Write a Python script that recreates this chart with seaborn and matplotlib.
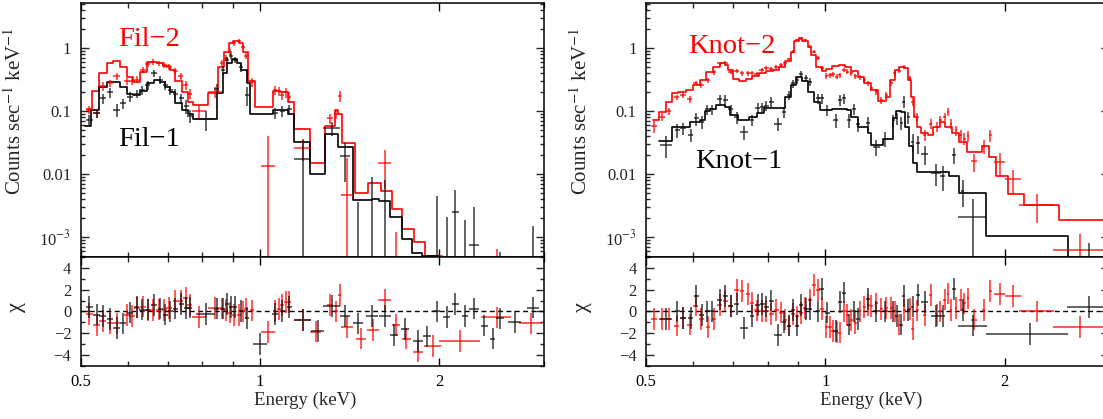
import numpy as np
import pandas as pd
import matplotlib
matplotlib.use("Agg")
import matplotlib.pyplot as plt
import seaborn as sns
from matplotlib.ticker import FixedLocator, FixedFormatter, MultipleLocator, NullFormatter

# ---------------- Fil-1 (black) ----------------
fil1_E = [0.516, 0.531, 0.544, 0.559, 0.574, 0.589, 0.604, 0.620, 0.633, 0.647,
          0.663, 0.680, 0.693, 0.706, 0.720, 0.737, 0.751, 0.762, 0.810, 0.845,
          0.866, 0.880, 0.895, 0.908, 0.930, 0.950, 1.000, 1.060, 1.090, 1.120,
          1.180, 1.250, 1.320, 1.390, 1.460, 1.540, 1.620, 1.680, 1.750, 1.840,
          1.910, 1.980, 2.060, 2.130, 2.210, 2.290, 2.380, 2.460, 2.530, 2.680,
          2.880]
fil1_dE = [0.007, 0.007, 0.007, 0.007, 0.007, 0.007, 0.007, 0.007, 0.007, 0.007,
           0.007, 0.007, 0.007, 0.007, 0.007, 0.007, 0.007, 0.007, 0.030, 0.008,
           0.007, 0.007, 0.007, 0.007, 0.007, 0.008, 0.026, 0.012, 0.012, 0.010,
           0.040, 0.032, 0.043, 0.027, 0.028, 0.036, 0.038, 0.026, 0.027, 0.036,
           0.030, 0.026, 0.027, 0.027, 0.028, 0.044, 0.031, 0.025, 0.039, 0.069,
           0.067]
fil1_rate = [0.073, 0.093, 0.16, 0.20, 0.105, 0.134, 0.17, 0.19, 0.22, 0.26,
             0.40, 0.32, 0.26, 0.22, 0.19, 0.16, 0.12, 0.085, 0.075, 0.23,
             0.45, 0.65, 0.76, 0.66, 0.50, 0.18, 0.0001, 0.095, 0.10, 0.107,
             0.0175, 0.0001, 0.054, 0.0195, 0.0001, 0.0001, 0.0001, 0.0001, 0.0001, 0.0001,
             0.0001, 0.0001, 0.0001, 0.0025, 0.0001, 0.00074, 0.0001, 0.0001, 0.0001, 0.0001,
             0.0001]
fil1_err = [0.015, 0.015, 0.03, 0.035, 0.025, 0.025, 0.03, 0.03, 0.035, 0.04,
            0.05, 0.05, 0.04, 0.035, 0.035, 0.03, 0.03, 0.02, 0.027, 0.04,
            0.07, 0.08, 0.09, 0.08, 0.08, 0.06, 0.0001, 0.02, 0.02, 0.02,
            0.017, 0.0001, 0.013, 0.012, 0.0035, 0.0091, 0.0081, 0.0001, 0.0001, 0.0001,
            0.0001, 0.0044, 0.002, 0.0031, 0.0018, 0.0023, 0.0001, 0.0001, 0.00048, 0.0001,
            0.0014]
fil1_chi = [0.42, -0.28, -0.4, -0.7, -1.5, -1.1, -0.1, 0.42, 0.18, 0.18,
            0.57, 0.27, -0.28, 0.0, 0.27, 0.72, 0.33, 0.36, -0.25, 0.27,
            0.27, 0.72, 0.4, 0.4, 0.03, -0.58, -3.0, -0.2, 0.03, 0.42,
            -0.8, -1.8, 0.5, -0.4, -1.1, -0.4, -0.4, -2.15, -1.6, -2.75,
            -2.3, 0.0, -0.5, 0.72, -0.4, 0.27, -1.3, -2.5, -0.64, -1.0,
            0.36]
fil1_model_edges = [0.508, 0.520, 0.537, 0.552, 0.566, 0.581, 0.597, 0.612, 0.628, 0.645,
                    0.662, 0.680, 0.692, 0.706, 0.720, 0.738, 0.757, 0.772, 0.846, 0.865,
                    0.880, 0.898, 0.915, 0.930, 0.950, 0.960, 1.053, 1.116, 1.138, 1.214,
                    1.286, 1.354, 1.435, 1.541, 1.585, 1.650, 1.730, 1.800, 1.870, 2.000,
                    3.0]
fil1_model = [0.058, 0.105, 0.246, 0.296, 0.29, 0.246, 0.19, 0.18, 0.21, 0.285,
              0.32, 0.296, 0.246, 0.205, 0.134, 0.105, 0.09, 0.075, 0.197, 0.40,
              0.58, 0.67, 0.58, 0.45, 0.28, 0.09, 0.105, 0.09, 0.033, 0.0101,
              0.043, 0.0275, 0.0039, 0.004, 0.0037, 0.00207, 0.00094, 0.00056, 0.0005, 0.0003]

# ---------------- Fil-2 (red) ----------------
fil2_E = [0.516, 0.531, 0.544, 0.559, 0.574, 0.597, 0.610, 0.622, 0.635, 0.647,
          0.660, 0.675, 0.690, 0.703, 0.720, 0.736, 0.750, 0.762, 0.790, 0.840,
          0.862, 0.875, 0.890, 0.905, 0.920, 0.935, 0.947, 0.970, 1.030, 1.060,
          1.075, 1.090, 1.105, 1.120, 1.180, 1.240, 1.310, 1.340, 1.360, 1.400,
          1.480, 1.550, 1.620, 1.690, 1.760, 1.840, 1.950, 2.170, 2.500, 2.850]
fil2_dE = [0.007, 0.007, 0.007, 0.007, 0.007, 0.007, 0.007, 0.007, 0.007, 0.007,
           0.007, 0.007, 0.007, 0.007, 0.007, 0.007, 0.007, 0.007, 0.022, 0.022,
           0.007, 0.007, 0.007, 0.007, 0.007, 0.007, 0.007, 0.008, 0.028, 0.008,
           0.008, 0.008, 0.008, 0.008, 0.040, 0.025, 0.015, 0.010, 0.008, 0.030,
           0.029, 0.036, 0.042, 0.026, 0.030, 0.036, 0.063, 0.168, 0.145, 0.129]
fil2_rate = [0.105, 0.093, 0.25, 0.28, 0.36, 0.30, 0.30, 0.32, 0.46, 0.56,
             0.61, 0.58, 0.55, 0.51, 0.43, 0.36, 0.26, 0.19, 0.10, 0.20,
             0.59, 0.70, 0.88, 1.20, 1.30, 1.05, 0.76, 0.29, 0.0133, 0.22,
             0.21, 0.18, 0.20, 0.17, 0.026, 0.0001, 0.077, 0.09, 0.175, 0.0047,
             0.0001, 0.0001, 0.0149, 0.0001, 0.0001, 0.0001, 0.0001, 0.0001, 0.0001, 0.0001]
fil2_err = [0.015, 0.015, 0.04, 0.04, 0.05, 0.04, 0.04, 0.04, 0.05, 0.06,
            0.06, 0.06, 0.06, 0.06, 0.05, 0.05, 0.04, 0.035, 0.025, 0.04,
            0.07, 0.08, 0.09, 0.10, 0.10, 0.09, 0.08, 0.05, 0.028, 0.035,
            0.035, 0.03, 0.035, 0.03, 0.01, 0.0004, 0.015, 0.015, 0.035, 0.0135,
            0.0001, 0.0001, 0.009, 0.0011, 0.0001, 0.0001, 0.0001, 0.0001, 0.00056, 0.0001]
fil2_chi = [-0.2, -1.24, -0.88, -1.1, -1.1, -0.33, -0.4, 0.36, 0.45, 0.12,
            0.12, 0.18, 0.12, 0.33, 0.94, 1.0, 1.24, 0.63, -0.5, 0.33,
            0.27, 0.12, -0.1, -0.3, -0.3, 0.0, 0.27, 0.1, -1.9, 0.03,
            0.2, 0.6, 0.88, 0.88, -0.8, -1.85, 0.57, 0.0, 1.54, -1.4,
            -2.5, -1.7, 1.09, -1.24, -2.5, -3.7, -3.2, -2.75, -0.55, -1.1]
fil2_model_edges = [0.511, 0.522, 0.536, 0.552, 0.566, 0.581, 0.597, 0.612, 0.628, 0.645,
                    0.670, 0.688, 0.706, 0.720, 0.738, 0.757, 0.772, 0.818, 0.851, 0.868,
                    0.885, 0.902, 0.920, 0.937, 0.956, 0.980, 1.053, 1.081, 1.116, 1.138,
                    1.214, 1.286, 1.334, 1.354, 1.375, 1.444, 1.521, 1.598, 1.669, 1.735,
                    1.811, 1.890, 2.020, 3.0]
fil2_model = [0.108, 0.213, 0.40, 0.578, 0.637, 0.50, 0.355, 0.296, 0.42, 0.61,
              0.59, 0.53, 0.45, 0.30, 0.205, 0.142, 0.126, 0.197, 0.51, 0.885,
              1.2, 1.32, 1.2, 0.885, 0.30, 0.117, 0.213, 0.205, 0.142, 0.052,
              0.0153, 0.0585, 0.105, 0.09, 0.031, 0.0051, 0.0074, 0.0054, 0.00285, 0.00134,
              0.00083, 0.0005, 0.0003]

# ---------------- Knot-1 (black) ----------------
knot1_E = [0.540, 0.564, 0.576, 0.594, 0.607, 0.620, 0.633, 0.645, 0.664, 0.679,
           0.693, 0.709, 0.730, 0.753, 0.769, 0.783, 0.796, 0.811, 0.833, 0.852,
           0.868, 0.883, 0.897, 0.911, 0.927, 0.941, 0.972, 0.985, 1.008, 1.040,
           1.057, 1.075, 1.095, 1.117, 1.135, 1.178, 1.217, 1.260, 1.300, 1.317,
           1.341, 1.355, 1.378, 1.403, 1.432, 1.470, 1.535, 1.575, 1.645, 1.700,
           1.770, 2.210, 2.770]
knot1_dE = [0.013, 0.006, 0.006, 0.006, 0.006, 0.006, 0.006, 0.006, 0.007, 0.007,
            0.007, 0.007, 0.012, 0.007, 0.007, 0.007, 0.007, 0.007, 0.012, 0.007,
            0.007, 0.007, 0.007, 0.007, 0.007, 0.007, 0.008, 0.008, 0.008, 0.010,
            0.008, 0.008, 0.008, 0.008, 0.008, 0.010, 0.017, 0.012, 0.008, 0.008,
            0.008, 0.008, 0.008, 0.008, 0.010, 0.020, 0.030, 0.015, 0.012, 0.012,
            0.100, 0.350, 0.220]
knot1_rate = [0.029, 0.050, 0.054, 0.042, 0.077, 0.068, 0.107, 0.107, 0.155, 0.151,
              0.107, 0.080, 0.047, 0.073, 0.112, 0.116, 0.122, 0.142, 0.064, 0.099,
              0.182, 0.278, 0.314, 0.391, 0.334, 0.296, 0.161, 0.16, 0.105, 0.073,
              0.151, 0.161, 0.073, 0.11, 0.063, 0.065, 0.0275, 0.037, 0.073, 0.077,
              0.065, 0.142, 0.080, 0.033, 0.031, 0.021, 0.0104, 0.0095, 0.0204, 0.0055,
              0.0021, 0.0001, 0.0001]
knot1_err = [0.011, 0.012, 0.012, 0.01, 0.018, 0.015, 0.02, 0.02, 0.03, 0.03,
             0.02, 0.018, 0.012, 0.015, 0.022, 0.022, 0.022, 0.025, 0.015, 0.02,
             0.03, 0.04, 0.045, 0.05, 0.045, 0.04, 0.03, 0.03, 0.02, 0.018,
             0.03, 0.03, 0.018, 0.022, 0.016, 0.016, 0.008, 0.01, 0.016, 0.016,
             0.015, 0.03, 0.018, 0.01, 0.01, 0.007, 0.004, 0.004, 0.006, 0.0025,
             0.0019, 0.0001, 0.0007]
knot1_chi = [-0.7, 0.0, -0.6, -0.6, 1.45, -0.35, 0.0, 0.0, 1.1, 1.45,
             0.5, 0.7, -1.5, -0.4, 0.6, 0.7, 0.45, 1.0, -2.15, -1.0,
             -1.3, 0.15, -1.3, 0.6, 0.2, 0.2, 0.0, 2.1, -0.1, -1.8,
             0.9, 1.75, -1.2, 0.0, -0.7, 1.15, 0.0, 0.0, 0.0, -0.4,
             -1.2, 1.45, 0.15, 0.45, 1.5, 0.9, -0.4, -0.4, 2.05, 0.15,
             -1.3, -2.1, 0.4]
knot1_model_edges = [0.526, 0.553, 0.591, 0.615, 0.627, 0.639, 0.656, 0.679, 0.690, 0.712,
                     0.745, 0.766, 0.787, 0.854, 0.876, 0.894, 0.915, 0.936, 0.955, 0.980,
                     1.025, 1.052, 1.086, 1.106, 1.135, 1.178, 1.195, 1.249, 1.300, 1.316,
                     1.339, 1.360, 1.383, 1.403, 1.428, 1.616, 1.674, 1.863, 2.560, 3.0]
knot1_model = [0.034, 0.056, 0.068, 0.073, 0.10, 0.11, 0.126, 0.116, 0.087, 0.073,
               0.082, 0.095, 0.114, 0.17, 0.26, 0.346, 0.30, 0.205, 0.142, 0.105,
               0.107, 0.11, 0.105, 0.082, 0.057, 0.045, 0.029, 0.037, 0.077, 0.10,
               0.099, 0.057, 0.028, 0.015, 0.011, 0.0093, 0.005, 0.00105, 0.0003]

# ---------------- Knot-2 (red) ----------------
knot2_E = [0.516, 0.531, 0.545, 0.562, 0.576, 0.591, 0.605, 0.619, 0.635, 0.650,
           0.664, 0.679, 0.693, 0.709, 0.724, 0.740, 0.753, 0.766, 0.781, 0.796,
           0.811, 0.827, 0.841, 0.854, 0.868, 0.883, 0.897, 0.911, 0.923, 0.941,
           0.957, 0.972, 0.987, 1.004, 1.017, 1.030, 1.044, 1.057, 1.075, 1.089,
           1.106, 1.123, 1.142, 1.162, 1.180, 1.195, 1.218, 1.241, 1.265, 1.290,
           1.307, 1.332, 1.358, 1.385, 1.403, 1.426, 1.468, 1.502, 1.541, 1.561,
           1.586, 1.606, 1.627, 1.659, 1.687, 1.713, 1.735, 1.780, 1.846, 1.894,
           1.962, 2.066, 2.270, 2.680]
knot2_dE = [0.006, 0.006, 0.006, 0.006, 0.006, 0.006, 0.006, 0.006, 0.006, 0.006,
            0.006, 0.006, 0.006, 0.006, 0.006, 0.006, 0.007, 0.007, 0.007, 0.007,
            0.007, 0.007, 0.007, 0.007, 0.007, 0.007, 0.007, 0.007, 0.007, 0.007,
            0.007, 0.007, 0.007, 0.007, 0.007, 0.007, 0.007, 0.007, 0.007, 0.007,
            0.007, 0.007, 0.007, 0.007, 0.007, 0.007, 0.008, 0.008, 0.008, 0.008,
            0.008, 0.008, 0.008, 0.008, 0.008, 0.008, 0.008, 0.008, 0.008, 0.008,
            0.008, 0.008, 0.008, 0.008, 0.008, 0.008, 0.008, 0.020, 0.012, 0.010,
            0.045, 0.065, 0.155, 0.265]
knot2_rate = [0.058, 0.082, 0.102, 0.167, 0.182, 0.155, 0.28, 0.262, 0.314, 0.416,
              0.578, 0.59, 0.426, 0.442, 0.401, 0.401, 0.411, 0.391, 0.453, 0.481,
              0.464, 0.512, 0.544, 0.578, 0.669, 0.885, 1.356, 1.44, 1.356, 1.063,
              0.885, 0.694, 0.481, 0.364, 0.377, 0.39, 0.355, 0.377, 0.453, 0.426,
              0.40, 0.364, 0.347, 0.314, 0.278, 0.232, 0.205, 0.151, 0.182, 0.278,
              0.40, 0.442, 0.512, 0.334, 0.14, 0.082, 0.042, 0.064, 0.057, 0.073,
              0.082, 0.099, 0.064, 0.050, 0.042, 0.037, 0.040, 0.016, 0.028, 0.042,
              0.0154, 0.0084, 0.0033, 0.00063]
knot2_err = [0.012, 0.012, 0.013, 0.018, 0.018, 0.018, 0.022, 0.024, 0.028, 0.034,
             0.04, 0.04, 0.034, 0.035, 0.032, 0.032, 0.032, 0.03, 0.034, 0.035,
             0.034, 0.036, 0.038, 0.04, 0.045, 0.055, 0.07, 0.075, 0.07, 0.06,
             0.055, 0.05, 0.04, 0.035, 0.035, 0.035, 0.033, 0.034, 0.038, 0.036,
             0.034, 0.032, 0.03, 0.028, 0.026, 0.024, 0.022, 0.02, 0.022, 0.028,
             0.035, 0.037, 0.04, 0.03, 0.02, 0.012, 0.008, 0.011, 0.01, 0.012,
             0.013, 0.015, 0.011, 0.009, 0.008, 0.008, 0.008, 0.005, 0.007, 0.009,
             0.006, 0.0035, 0.0016, 0.0005]
knot2_chi = [-0.67, -0.67, -0.67, -1.3, -0.6, -1.2, 0.55, -0.7, -1.45, -0.7,
             0.6, 1.0, 0.5, 2.0, 1.9, 1.6, 0.8, 0.1, 0.05, 0.05,
             -0.2, 0.15, -0.1, -0.75, -1.3, -0.2, -0.45, -0.15, 0.3, 1.1,
             2.45, 2.0, 0.2, -1.45, -1.4, -1.8, -1.9, -1.95, 0.0, -0.3,
             -0.8, -1.05, 0.0, 0.4, 0.6, 0.5, 0.75, 0.2, 0.3, 0.3,
             0.0, -1.2, 0.15, 0.2, -1.6, 0.1, -0.3, 1.5, -0.3, 0.0,
             1.1, 1.65, 0.15, 0.3, 1.05, 0.75, 1.2, -0.75, 0.15, 1.9,
             1.6, 1.45, 0.0, -1.45]
knot2_model_edges = [0.513, 0.526, 0.540, 0.553, 0.566, 0.584, 0.600, 0.615, 0.631, 0.647,
                     0.664, 0.679, 0.686, 0.700, 0.716, 0.735, 0.754, 0.773, 0.796, 0.817,
                     0.835, 0.855, 0.876, 0.887, 0.903, 0.915, 0.936, 0.947, 0.966, 0.985,
                     1.004, 1.025, 1.052, 1.079, 1.106, 1.135, 1.163, 1.195, 1.226, 1.265,
                     1.282, 1.307, 1.332, 1.357, 1.374, 1.392, 1.410, 1.428, 1.447, 1.486,
                     1.515, 1.556, 1.588, 1.631, 1.675, 1.733, 1.830, 1.881, 1.934, 2.030,
                     2.160, 2.470, 3.0]
knot2_model = [0.073, 0.099, 0.142, 0.198, 0.205, 0.218, 0.26, 0.314, 0.416, 0.51,
               0.578, 0.545, 0.45, 0.33, 0.30, 0.33, 0.364, 0.41, 0.44, 0.46,
               0.51, 0.64, 0.885, 1.32, 1.44, 1.32, 1.06, 0.78, 0.51, 0.44,
               0.47, 0.52, 0.54, 0.50, 0.43, 0.355, 0.28, 0.22, 0.145, 0.17,
               0.314, 0.45, 0.51, 0.48, 0.314, 0.17, 0.082, 0.057, 0.045, 0.042,
               0.057, 0.068, 0.057, 0.045, 0.033, 0.023, 0.028, 0.019, 0.0093, 0.0049,
               0.0033, 0.0019]

x_ticks = [0.5, 1, 2]
x_tick_labels = ["0.5", "1", "2"]
x_minor = [0.6, 0.7, 0.8, 0.9, 3.0]
y_ticks = [1e-3, 1e-2, 1e-1, 1]
y_tick_labels = ["10$^{-3}$", "0.01", "0.1", "1"]

# ---------------- style ----------------
sns.set_theme(style="ticks", rc={
    "xtick.direction": "in", "ytick.direction": "in",
    "xtick.top": True, "ytick.right": True,
    "axes.linewidth": 1.0, "axes.edgecolor": "black",
})
plt.rcParams["font.family"] = ["Liberation Serif", "DejaVu Serif"]
plt.rcParams["mathtext.fontset"] = "stix"

fig = plt.figure(figsize=(11.03, 4.19), dpi=100)
fig.patch.set_facecolor("white")

W = 463 / 1103
TOP = [0.38592, 0.60621]
BOT = [0.12721, 0.25871]


def step_df(edges, vals):
    return pd.DataFrame({"E": edges, "rate": list(vals) + [vals[-1]]})


def style_x(ax):
    ax.set_xscale("log")
    ax.set_xlim(0.5, 3.0)
    ax.xaxis.set_major_locator(FixedLocator(x_ticks))
    ax.xaxis.set_minor_locator(FixedLocator(x_minor))
    ax.xaxis.set_minor_formatter(NullFormatter())
    ax.tick_params(axis="x", which="major", length=5.5, width=1.0, direction="in",
                   top=True, bottom=True, pad=6, labelsize=12, colors="black")
    ax.tick_params(axis="x", which="minor", length=3.8, width=1.0, direction="in",
                   top=True, bottom=True)


def draw_panel(x0, spectra, texts):
    axt = fig.add_axes([x0, TOP[0], W, TOP[1]])
    axr = fig.add_axes([x0, BOT[0], W, BOT[1]])
    for ax in (axt, axr):
        ax.set_facecolor("white")
        for s in ax.spines.values():
            s.set_linewidth(1.1)
            s.set_color("black")
    for sp in spectra:
        col, ecol = sp["color"], sp["ecolor"]
        df = step_df(sp["edges"], sp["model"])
        sns.lineplot(data=df, x="E", y="rate", ax=axt, color=col, lw=1.2,
                     drawstyle="steps-post", estimator=None, sort=False, zorder=3)
        axt.errorbar(sp["E"], sp["rate"], xerr=sp["dE"], yerr=sp["err"], fmt="none",
                     ecolor=ecol, elinewidth=1.15, capsize=0, alpha=0.8, zorder=4)
        axr.errorbar(sp["E"], sp["chi"], xerr=sp["dE"], yerr=np.ones(len(sp["chi"])),
                     fmt="none", ecolor=ecol, elinewidth=1.15, capsize=0, alpha=0.8, zorder=4)
    # top panel
    style_x(axt)
    axt.set_yscale("log")
    axt.set_ylim(4.8e-4, 5.2)
    axt.yaxis.set_major_locator(FixedLocator(y_ticks))
    axt.yaxis.set_major_formatter(FixedFormatter(y_tick_labels))
    axt.yaxis.set_minor_locator(matplotlib.ticker.LogLocator(base=10, subs=np.arange(2, 10)))
    axt.yaxis.set_minor_formatter(NullFormatter())
    axt.tick_params(axis="y", which="major", length=5.5, width=1.0, direction="in",
                    left=True, right=True, pad=7, labelsize=12)
    axt.tick_params(axis="y", which="minor", length=3, width=1.0, direction="in",
                    left=True, right=True)
    axt.tick_params(axis="x", labelbottom=False)
    axt.set_xlabel("")
    axt.set_ylabel("Counts sec$^{-1}$ keV$^{-1}$", fontsize=15)
    axt.yaxis.set_label_coords(-0.118, 0.574)
    for t in texts:
        axt.text(t[0], t[1], t[2], color=t[3], fontsize=20.5, transform=axt.transAxes,
                 ha="left", va="baseline")
    # residual panel
    style_x(axr)
    axr.set_ylim(-5, 5)
    axr.axhline(0, color="black", lw=1.0, ls=(0, (3.5, 2.5)), zorder=2)
    axr.yaxis.set_major_locator(MultipleLocator(2))
    axr.yaxis.set_minor_locator(MultipleLocator(1))
    axr.tick_params(axis="y", which="major", length=5.5, width=1.0, direction="in",
                    left=True, right=True, pad=7, labelsize=12)
    axr.tick_params(axis="y", which="minor", length=3, width=1.0, direction="in",
                    left=True, right=True)
    axr.xaxis.set_major_formatter(FixedFormatter(x_tick_labels))
    axr.set_xlabel("Energy (keV)", fontsize=13.5)
    axr.xaxis.set_label_coords(0.485, -0.243)
    axr.set_ylabel("χ", fontsize=16)
    axr.yaxis.set_label_coords(-0.118, 0.541)


fil_spectra = [
    dict(color="red", ecolor="red", edges=fil2_model_edges, model=fil2_model,
         E=fil2_E, dE=fil2_dE, rate=fil2_rate, err=fil2_err, chi=fil2_chi),
    dict(color="black", ecolor="#111111", edges=fil1_model_edges, model=fil1_model,
         E=fil1_E, dE=fil1_dE, rate=fil1_rate, err=fil1_err, chi=fil1_chi),
]
knot_spectra = [
    dict(color="red", ecolor="red", edges=knot2_model_edges, model=knot2_model,
         E=knot2_E, dE=knot2_dE, rate=knot2_rate, err=knot2_err, chi=knot2_chi),
    dict(color="black", ecolor="#111111", edges=knot1_model_edges, model=knot1_model,
         E=knot1_E, dE=knot1_dE, rate=knot1_rate, err=knot1_err, chi=knot1_chi),
]

draw_panel(81 / 1103, fil_spectra,
           [(0.080, 0.832, "Fil\u22122", "red"), (0.080, 0.438, "Fil\u22121", "black")])
draw_panel(646.3 / 1103, knot_spectra,
           [(0.0914, 0.804, "Knot\u22122", "red"), (0.1065, 0.352, "Knot\u22121", "black")])

fig.savefig("out.png", dpi=100, facecolor="white")
